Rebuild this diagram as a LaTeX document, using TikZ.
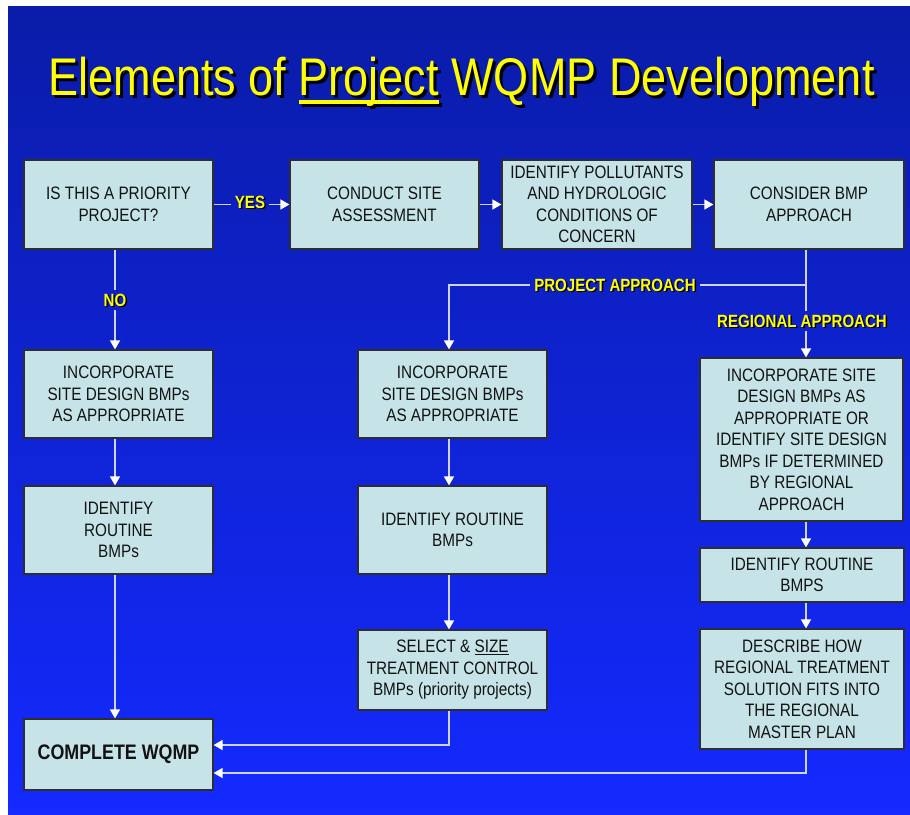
\documentclass[tikz,border=0pt]{standalone}
\usepackage{fontspec}
\setmainfont{Liberation Sans}[FakeStretch=0.85]
\usetikzlibrary{arrows.meta,positioning}
\definecolor{bgtop}{RGB}{10,28,168}
\definecolor{bgbot}{RGB}{20,42,255}
\definecolor{boxfill}{RGB}{198,228,232}
\definecolor{boxline}{RGB}{45,45,50}
\definecolor{conn}{RGB}{205,210,255}
\definecolor{ylw}{RGB}{255,255,0}
\definecolor{txt}{RGB}{18,18,18}
\tikzset{
  flowbox/.style={draw=boxline, line width=1.2pt, fill=boxfill, align=center,
    text=txt, inner sep=0pt, font=\fontsize{18}{21.5}\selectfont},
  lbl/.style={text=ylw, font=\fontsize{17.7}{20}\selectfont\bfseries, inner xsep=4pt, inner ysep=4pt},
  lblshadow/.style={text=black, font=\fontsize{17.7}{20}\selectfont\bfseries, inner sep=0pt},
  conline/.style={draw=conn, line width=1.5pt},
  conarrow/.style={draw=conn, line width=1.5pt, -{Triangle[width=10pt,length=9pt,color=white]}},
}
\newcommand{\Pundl}[1]{{\setbox0\hbox{#1}\rlap{\rule[-9pt]{\wd0}{4pt}}\box0}}
\begin{document}
\begin{tikzpicture}[x=1pt,y=-1pt]
\useasboundingbox (0,0) rectangle (910,814);
\shade[top color=bgtop, bottom color=bgbot] (8,6) rectangle (910,814);
% column lines
\coordinate (lx) at (115,0);
\coordinate (mx) at (449,0);
\coordinate (rx) at (806,0);
% title
\node[anchor=base, text=black, font=\fontsize{53}{60}\selectfont, inner sep=0pt] (titleshadow) at (464.5,98) {Elements of \Pundl{Project} WQMP Development};
\node[anchor=base, text=ylw, font=\fontsize{53}{60}\selectfont, inner sep=0pt] (title) at (461.5,95) {Elements of \Pundl{Project} WQMP Development};
% boxes
\node[flowbox, minimum width=189pt, minimum height=89pt] (b1) at (118.5,204.5) {IS THIS A PRIORITY\\PROJECT?};
\node[flowbox, minimum width=189pt, minimum height=89pt] (b2) at (384.5,204.5) {CONDUCT SITE\\ASSESSMENT};
\node[flowbox, minimum width=190pt, minimum height=89pt] (b3) at (597,204.5) {IDENTIFY POLLUTANTS\\AND HYDROLOGIC\\CONDITIONS OF\\CONCERN};
\node[flowbox, minimum width=190pt, minimum height=89pt] (b4) at (809,204.5) {CONSIDER BMP\\APPROACH};
\node[flowbox, minimum width=189pt, minimum height=88pt] (b5) at (118.5,394) {INCORPORATE\\SITE DESIGN BMPs\\AS APPROPRIATE};
\node[flowbox, minimum width=189pt, minimum height=88pt] (b6) at (118.5,530) {IDENTIFY\\ROUTINE\\BMPs};
\node[flowbox, minimum width=189pt, minimum height=71pt, font=\fontsize{21}{24}\selectfont\bfseries] (b7) at (118.5,754.5) {COMPLETE WQMP};
\node[flowbox, minimum width=189pt, minimum height=88pt] (b8) at (452.5,394) {INCORPORATE\\SITE DESIGN BMPs\\AS APPROPRIATE};
\node[flowbox, minimum width=189pt, minimum height=88pt] (b9) at (452.5,530) {IDENTIFY ROUTINE\\BMPs};
\node[flowbox, minimum width=189pt, minimum height=80pt] (b10) at (452.5,670) {SELECT \& \underline{SIZE}\\TREATMENT CONTROL\\BMPs (priority projects)};
\node[flowbox, minimum width=203pt, minimum height=163pt] (b11) at (801.5,439.5) {INCORPORATE SITE\\DESIGN BMPs AS\\APPROPRIATE OR\\IDENTIFY SITE DESIGN\\BMPs IF DETERMINED\\BY REGIONAL\\APPROACH};
\node[flowbox, minimum width=204pt, minimum height=54pt] (b12) at (802,575) {IDENTIFY ROUTINE\\BMPS};
\node[flowbox, minimum width=204pt, minimum height=120pt] (b13) at (802,689) {DESCRIBE HOW\\REGIONAL TREATMENT\\SOLUTION FITS INTO\\THE REGIONAL\\MASTER PLAN};
% labels (shadow first, then yellow text)
\node[lblshadow] at (251.5,203.5) {YES};
\node[lbl] (yes) at (250,202) {YES};
\node[lblshadow] at (116.5,301.5) {NO};
\node[lbl] (no) at (115,300) {NO};
\node[lblshadow] at (616.5,286.5) {PROJECT APPROACH};
\node[lbl] (pa) at (615,285) {PROJECT APPROACH};
\node[lblshadow] at (803.5,322.5) {REGIONAL APPROACH};
\node[lbl] (ra) at (802,321) {REGIONAL APPROACH};
% connectors
\draw[conline] (b1.east) -- (b1.east -| yes.west);
\draw[conarrow] (b2.west -| yes.east) -- (b2.west);
\draw[conarrow] (b2.east) -- (b3.west);
\draw[conarrow] (b3.east) -- (b4.west);
\draw[conline] (b1.south -| lx) -- (no.north);
\draw[conarrow] (no.south) -- (b5.north -| lx);
\draw[conarrow] (b5.south -| lx) -- (b6.north -| lx);
\draw[conarrow] (b6.south -| lx) -- (b7.north -| lx);
\draw[conline] (b4.south -| rx) -- (pa.east -| rx) -- (pa.east);
\draw[conarrow] (pa.west) -| (b8.north -| mx);
\draw[conline] (pa.east -| rx) -- (ra.north -| rx);
\draw[conarrow] (ra.south -| rx) -- (b11.north -| rx);
\draw[conarrow] (b8.south -| mx) -- (b9.north -| mx);
\draw[conarrow] (b9.south -| mx) -- (b10.north -| mx);
\draw[conarrow] (b11.south -| rx) -- (b12.north -| rx);
\draw[conarrow] (b12.south -| rx) -- (b13.north -| rx);
\draw[conarrow] (b10.south -| mx) |- ([yshift=9.5pt]b7.east);
\draw[conarrow] (b13.south -| rx) |- ([yshift=-18.5pt]b7.east);
\end{tikzpicture}
\end{document}
